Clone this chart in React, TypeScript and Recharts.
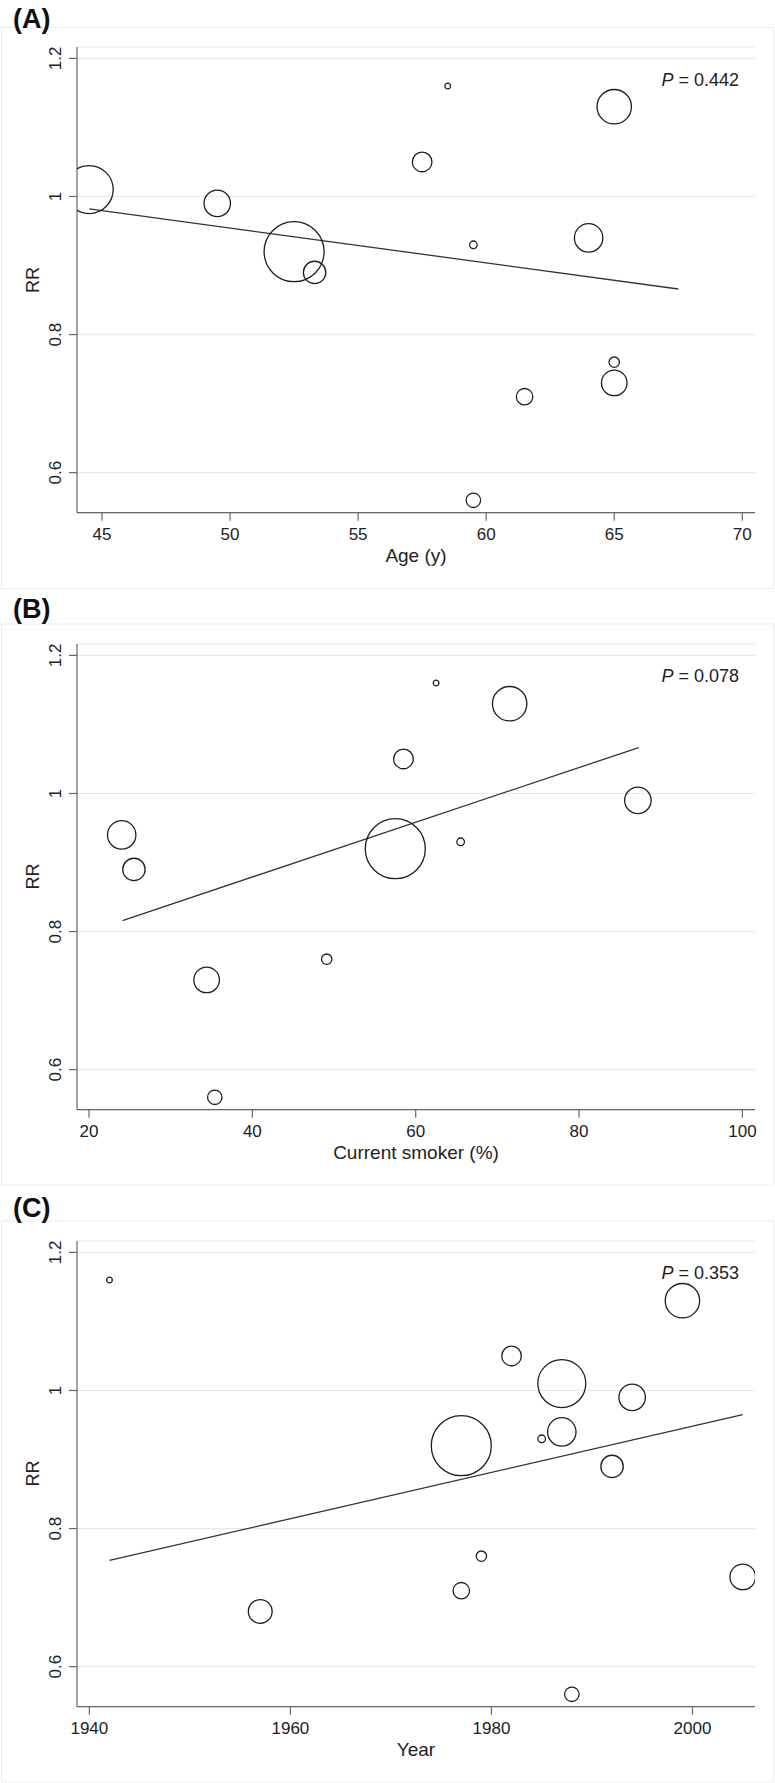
import {
  CartesianGrid,
  ReferenceLine,
  Scatter,
  ScatterChart,
  XAxis,
  YAxis,
  ZAxis,
} from "recharts";

const FONT = '"Liberation Sans", Arial, Helvetica, sans-serif';

// shared y axis (RR)
const rrDomain = [0.542, 1.2165];
const rrTicks = [0.6, 0.8, 1, 1.2];

// (A) mean age
const ageYears = [44.5, 49.5, 52.5, 53.3, 57.5, 58.5, 59.5, 59.5, 61.5, 64, 65, 65, 65];
const ageRR = [1.01, 0.99, 0.92, 0.89, 1.05, 1.16, 0.93, 0.56, 0.71, 0.94, 1.13, 0.76, 0.73];
const ageWeight = [64, 19.4, 100, 13.9, 10.7, 0.9, 1.6, 5.8, 7.5, 22.4, 32.9, 3.0, 18.2];
const ageFitX = [44.5, 67.5];
const ageFitY = [0.982, 0.866];
const ageTicks = [45, 50, 55, 60, 65, 70];

// (B) current smokers
const smokerPct = [24, 25.5, 34.4, 35.4, 49.1, 57.5, 58.5, 62.5, 65.5, 71.5, 87.2];
const smokerRR = [0.94, 0.89, 0.73, 0.56, 0.76, 0.92, 1.05, 1.16, 0.93, 1.13, 0.99];
const smokerWeight = [22.4, 13.9, 18.2, 5.8, 3.0, 100, 10.7, 0.9, 1.6, 32.9, 19.4];
const smokerFitX = [24.1, 87.3];
const smokerFitY = [0.816, 1.0665];
const smokerTicks = [20, 40, 60, 80, 100];

// (C) publication year
const pubYear = [1942, 1957, 1977, 1977, 1979, 1982, 1985, 1987, 1987, 1988, 1992, 1994, 1999, 2005];
const yearRR = [1.16, 0.68, 0.92, 0.71, 0.76, 1.05, 0.93, 1.01, 0.94, 0.56, 0.89, 0.99, 1.13, 0.73];
const yearWeight = [0.9, 15.7, 100, 7.5, 3.0, 10.7, 1.6, 64, 22.4, 5.8, 13.9, 19.4, 32.9, 18.2];
const yearFitX = [1942, 2005];
const yearFitY = [0.754, 0.965];
const yearTicks = [1940, 1960, 1980, 2000];

const toPoints = (xs: number[], ys: number[], ws?: number[]) =>
  xs.map((x, i) => ({ x, y: ys[i], w: ws ? ws[i] : 0 }));

const XTick = (props: any) => {
  const { x, y, payload } = props;
  return (
    <text x={x} y={y + 15.3} textAnchor="middle" fontSize={17} fill="#222" fontFamily={FONT}>
      {payload.value}
    </text>
  );
};

const YTick = (props: any) => {
  const { x, y, payload } = props;
  const bx = x - 3.5;
  return (
    <text
      x={bx}
      y={y}
      transform={`rotate(-90, ${bx}, ${y})`}
      textAnchor="middle"
      fontSize={17}
      fill="#222"
      fontFamily={FONT}
    >
      {payload.value}
    </text>
  );
};

type PanelProps = {
  top: number;
  xDomain: number[];
  xTicks: number[];
  data: { x: number; y: number; w: number }[];
  fit: { x: number; y: number }[];
};

const Panel = ({ top, xDomain, xTicks, data, fit }: PanelProps) => {
  return (
    <div style={{ position: "absolute", left: 0, top, width: 775, height: 597 }}>
      <ScatterChart width={775} height={597} margin={{ top: 47, right: 20, bottom: 0, left: 0 }}>
        <CartesianGrid vertical={false} stroke="#e9e9e9" strokeWidth={1.2} />
        <XAxis
          type="number"
          dataKey="x"
          domain={xDomain}
          ticks={xTicks}
          allowDataOverflow
          interval={0}
          height={84.3}
          tickSize={8}
          tickMargin={4}
          stroke="#666"
          strokeWidth={1.2}
          tick={<XTick />}
        />
        <YAxis
          type="number"
          dataKey="y"
          domain={rrDomain}
          ticks={rrTicks}
          allowDataOverflow
          interval={0}
          width={77}
          tickSize={8}
          tickMargin={4}
          stroke="#666"
          strokeWidth={1.2}
          tick={<YTick />}
        />
        <ZAxis type="number" dataKey="w" domain={[0, 100]} range={[0, 2827]} />
        <ReferenceLine segment={fit} stroke="#333" strokeWidth={1.3} />
        <Scatter
          data={data}
          fill="none"
          stroke="#1f1f1f"
          strokeWidth={1.3}
          isAnimationActive={false}
        />
      </ScatterChart>
    </div>
  );
};

// panel frames and texts, drawn over the three charts
const panelTops = [0, 596.5, 1193.5];
const panelLetters = ["(A)", "(B)", "(C)"];
const letterBaselines = [28, 21.5, 23.5];
const pValues = ["0.442", "0.078", "0.353"];
const xLabels = ["Age (y)", "Current smoker (%)", "Year"];

const Overlay = () => (
  <svg
    width={775}
    height={1783}
    style={{ position: "absolute", left: 0, top: 0, pointerEvents: "none" }}
    fontFamily={FONT}
  >
    {panelTops.map((t, i) => (
      <g key={i} transform={`translate(0, ${t})`}>
        <rect x={1.5} y={27.5} width={772} height={561} fill="none" stroke="#ececec" />
        <text x={13} y={letterBaselines[i]} fontSize={27} fontWeight="bold" fill="#111">
          {panelLetters[i]}
        </text>
        <text x={739} y={85.5} textAnchor="end" fontSize={18} fill="#222">
          <tspan fontStyle="italic">P</tspan> = {pValues[i]}
        </text>
        <text x={416} y={562} textAnchor="middle" fontSize={19} fill="#222">
          {xLabels[i]}
        </text>
        <text x={39} y={280} transform="rotate(-90, 39, 280)" textAnchor="middle" fontSize={18} fill="#222">
          RR
        </text>
      </g>
    ))}
  </svg>
);

export default function App() {
  return (
    <div
      style={{
        position: "absolute",
        left: 0,
        top: 0,
        width: 775,
        height: 1783,
        overflow: "hidden",
        background: "#fff",
        fontFamily: FONT,
      }}
    >
      <Panel
        top={panelTops[0]}
        xDomain={[44.024, 70.496]}
        xTicks={ageTicks}
        data={toPoints(ageYears, ageRR, ageWeight)}
        fit={toPoints(ageFitX, ageFitY)}
      />
      <Panel
        top={panelTops[1]}
        xDomain={[18.53, 101.54]}
        xTicks={smokerTicks}
        data={toPoints(smokerPct, smokerRR, smokerWeight)}
        fit={toPoints(smokerFitX, smokerFitY)}
      />
      <Panel
        top={panelTops[2]}
        xDomain={[1938.77, 2006.22]}
        xTicks={yearTicks}
        data={toPoints(pubYear, yearRR, yearWeight)}
        fit={toPoints(yearFitX, yearFitY)}
      />
      <Overlay />
    </div>
  );
}
